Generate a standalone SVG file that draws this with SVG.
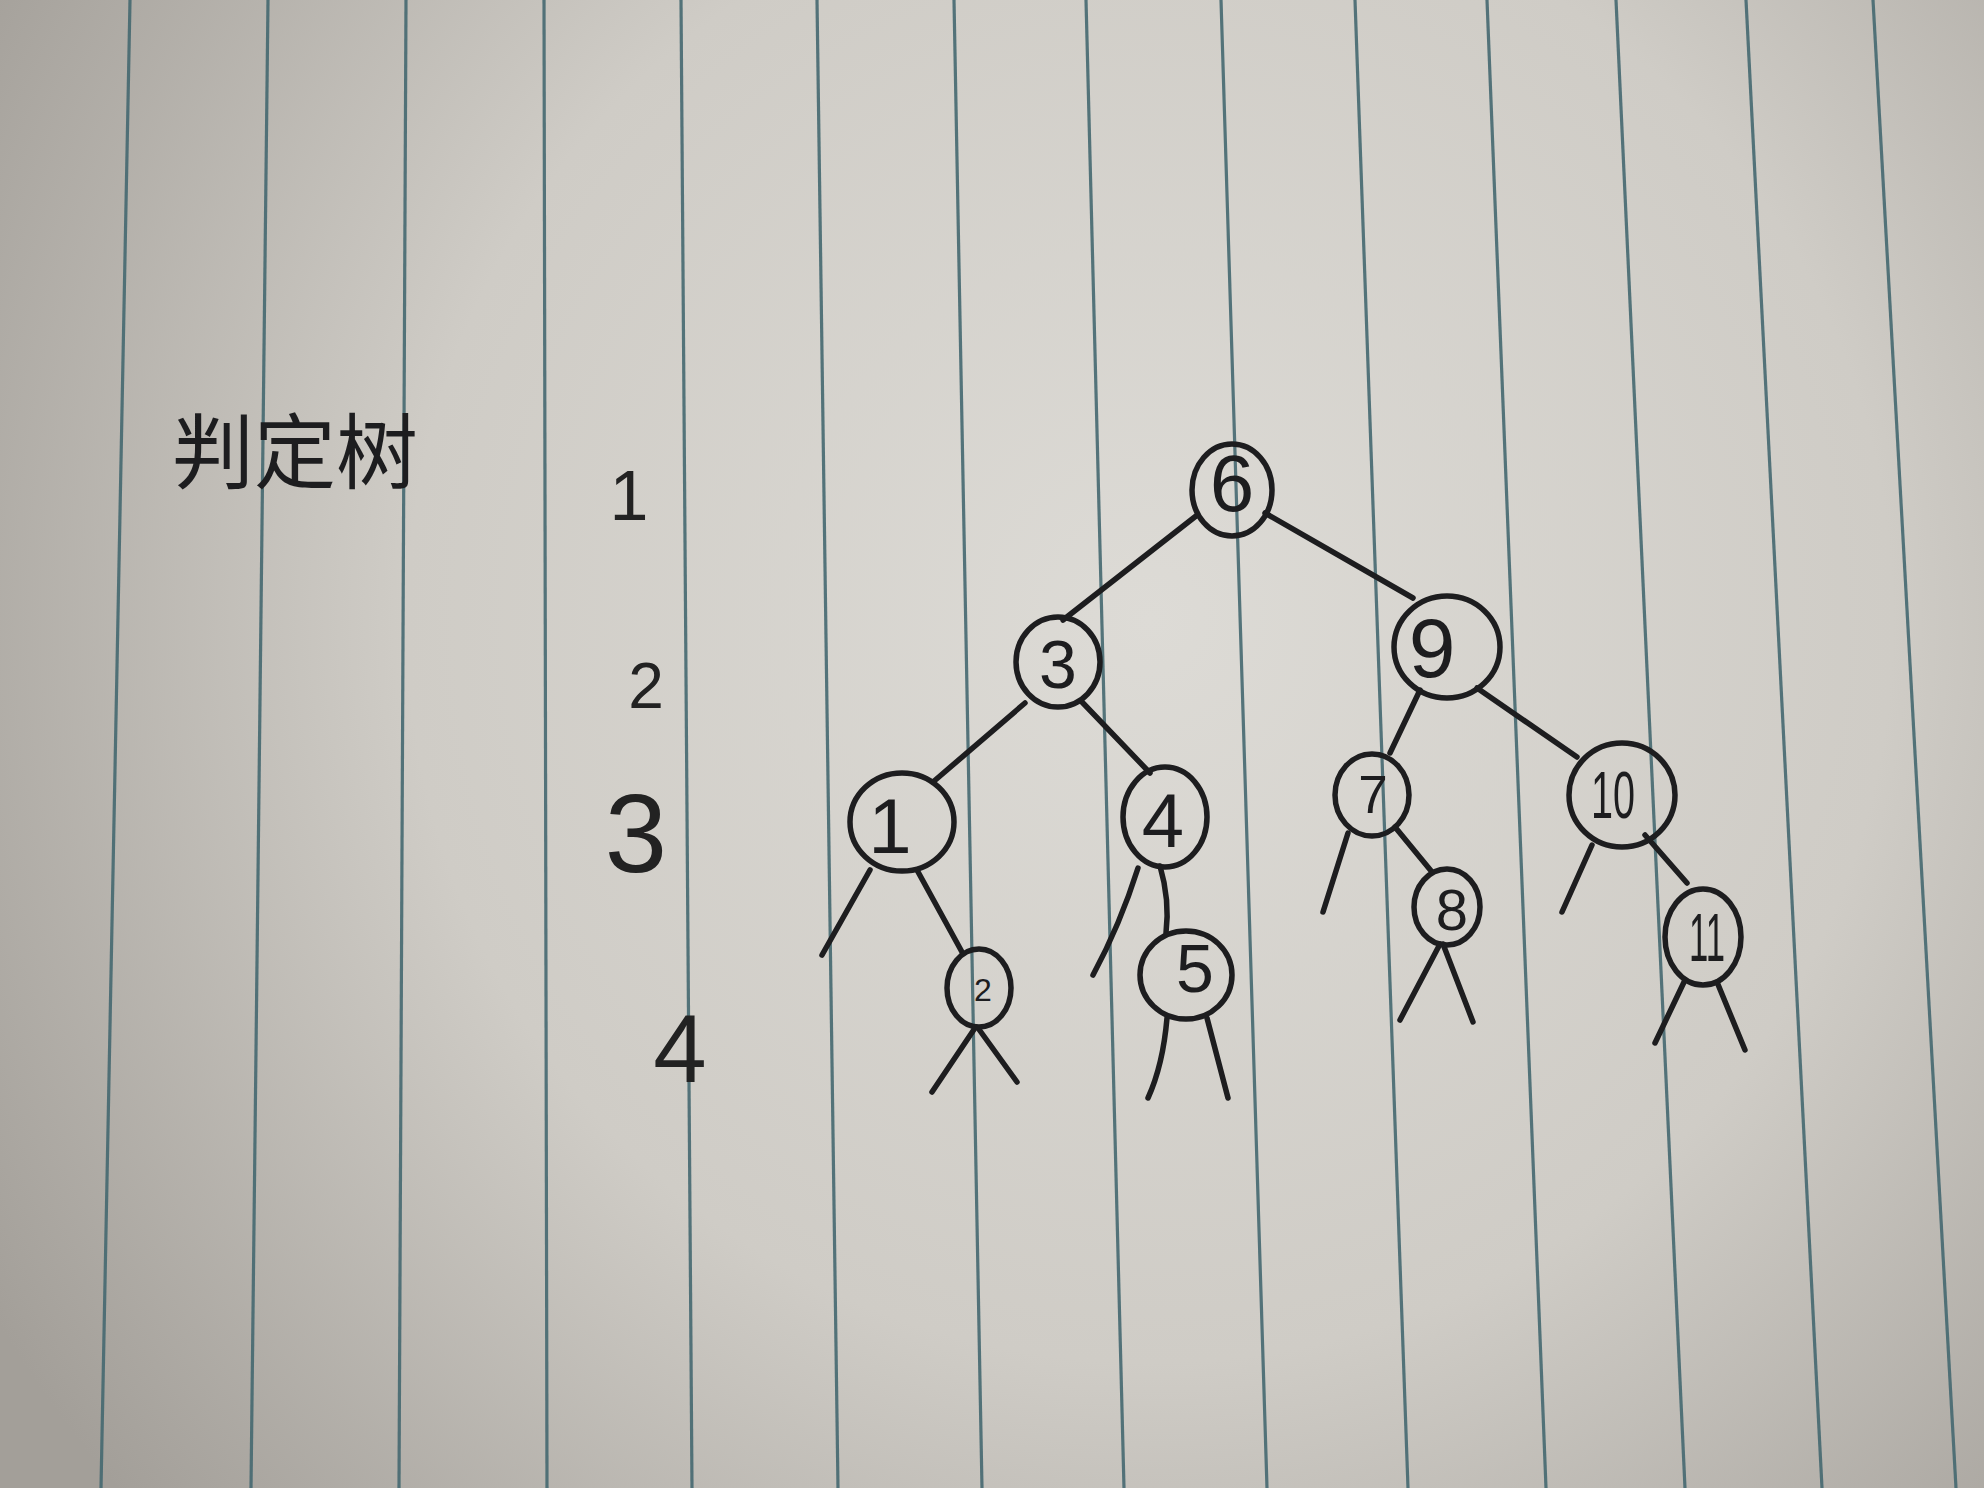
<svg xmlns="http://www.w3.org/2000/svg" width="1984" height="1488" viewBox="0 0 1984 1488">
<defs>
<radialGradient id="paper" cx="1150" cy="620" r="1350" gradientUnits="userSpaceOnUse">
<stop offset="0" stop-color="#dddbd6"/>
<stop offset="0.55" stop-color="#cfccc6"/>
<stop offset="1" stop-color="#a39f99"/>
</radialGradient>
<style>
.rule{stroke:#456870;stroke-width:3.2;stroke-opacity:0.9;fill:none}
.ink{stroke:#1d1d1f;stroke-width:5.5;stroke-linecap:round;fill:none}
.node ellipse{stroke:#1d1d1f;stroke-width:5.5;fill:none}
.num{font-family:"Liberation Sans","DejaVu Sans",sans-serif;fill:#1d1d1f;text-anchor:middle}
.lvl{font-family:"Liberation Sans","DejaVu Sans",sans-serif;fill:#222;text-anchor:middle}
.title{font-family:"Noto Sans CJK SC","Noto Sans CJK JP",sans-serif;fill:#1d1d1f}
</style>
</defs>
<rect x="0" y="0" width="1984" height="1488" fill="url(#paper)"/>
<g id="rules">
<line class="rule" x1="130" y1="0" x2="101" y2="1488"/>
<line class="rule" x1="268" y1="0" x2="251" y2="1488"/>
<line class="rule" x1="406" y1="0" x2="399" y2="1488"/>
<line class="rule" x1="544" y1="0" x2="547" y2="1488"/>
<line class="rule" x1="681" y1="0" x2="692" y2="1488"/>
<line class="rule" x1="817" y1="0" x2="838" y2="1488"/>
<line class="rule" x1="954" y1="0" x2="982" y2="1488"/>
<line class="rule" x1="1086" y1="0" x2="1124" y2="1488"/>
<line class="rule" x1="1221" y1="0" x2="1267" y2="1488"/>
<line class="rule" x1="1355" y1="0" x2="1408" y2="1488"/>
<line class="rule" x1="1487" y1="0" x2="1546" y2="1488"/>
<line class="rule" x1="1616" y1="0" x2="1685" y2="1488"/>
<line class="rule" x1="1746" y1="0" x2="1822" y2="1488"/>
<line class="rule" x1="1873" y1="0" x2="1956" y2="1488"/>
</g>
<text class="title" x="172" y="482" font-size="82" textLength="246" lengthAdjust="spacingAndGlyphs">判定树</text>
<g id="levels">
<text class="lvl" x="629" y="520" font-size="70">1</text>
<text class="lvl" x="646" y="708" font-size="64">2</text>
<text class="lvl" x="636" y="872" font-size="112">3</text>
<text class="lvl" x="680" y="1082" font-size="96">4</text>
</g>
<g id="connectors">
<line class="ink" x1="1196" y1="516" x2="1063" y2="620"/>
<line class="ink" x1="1265" y1="513" x2="1413" y2="598"/>
<line class="ink" x1="1025" y1="703" x2="933" y2="782"/>
<line class="ink" x1="1082" y1="702" x2="1150" y2="773"/>
<line class="ink" x1="1420" y1="690" x2="1390" y2="753"/>
<line class="ink" x1="1477" y1="688" x2="1577" y2="757"/>
<line class="ink" x1="870" y1="870" x2="822" y2="955"/>
<line class="ink" x1="917" y1="870" x2="962" y2="952"/>
<path class="ink" d="M1138 868 Q1120 925 1093 975"/>
<path class="ink" d="M1160 866 Q1170 900 1166 933"/>
<line class="ink" x1="975" y1="1028" x2="932" y2="1092"/>
<line class="ink" x1="978" y1="1028" x2="1017" y2="1082"/>
<path class="ink" d="M1167 1018 Q1163 1065 1148 1098"/>
<line class="ink" x1="1207" y1="1018" x2="1228" y2="1098"/>
<line class="ink" x1="1348" y1="833" x2="1323" y2="912"/>
<line class="ink" x1="1395" y1="827" x2="1432" y2="872"/>
<line class="ink" x1="1440" y1="944" x2="1400" y2="1020"/>
<line class="ink" x1="1443" y1="944" x2="1473" y2="1022"/>
<line class="ink" x1="1592" y1="845" x2="1562" y2="912"/>
<line class="ink" x1="1645" y1="835" x2="1687" y2="883"/>
<line class="ink" x1="1685" y1="980" x2="1655" y2="1043"/>
<line class="ink" x1="1717" y1="982" x2="1745" y2="1050"/>
</g>
<g id="node-6" class="node"><ellipse cx="1232" cy="490" rx="40" ry="46"/><text class="num" x="1232" y="511" font-size="80">6</text></g>
<g id="node-3" class="node"><ellipse cx="1058" cy="662" rx="42" ry="45"/><text class="num" x="1058" y="688" font-size="68">3</text></g>
<g id="node-9" class="node"><ellipse cx="1447" cy="647" rx="53" ry="51"/><text class="num" x="1432" y="677" font-size="84">9</text></g>
<g id="node-1" class="node"><ellipse cx="902" cy="822" rx="52" ry="49"/><text class="num" x="890" y="853" font-size="78">1</text></g>
<g id="node-4" class="node"><ellipse cx="1165" cy="817" rx="42" ry="50"/><text class="num" x="1163" y="847" font-size="76">4</text></g>
<g id="node-7" class="node"><ellipse cx="1372" cy="795" rx="37" ry="41"/><text class="num" x="1373" y="813" font-size="53">7</text></g>
<g id="node-10" class="node"><ellipse cx="1622" cy="795" rx="53" ry="52"/><text class="num" x="1613" y="818" font-size="66" textLength="44" lengthAdjust="spacingAndGlyphs">10</text></g>
<g id="node-2" class="node"><ellipse cx="979" cy="988" rx="32" ry="39"/><text class="num" x="983" y="1001" font-size="32">2</text></g>
<g id="node-5" class="node"><ellipse cx="1186" cy="975" rx="46" ry="44"/><text class="num" x="1195" y="992" font-size="68">5</text></g>
<g id="node-8" class="node"><ellipse cx="1447" cy="907" rx="33" ry="38"/><text class="num" x="1452" y="930" font-size="58">8</text></g>
<g id="node-11" class="node"><ellipse cx="1703" cy="937" rx="38" ry="48"/><text class="num" x="1707" y="961" font-size="68" textLength="36" lengthAdjust="spacingAndGlyphs">11</text></g>
</svg>
